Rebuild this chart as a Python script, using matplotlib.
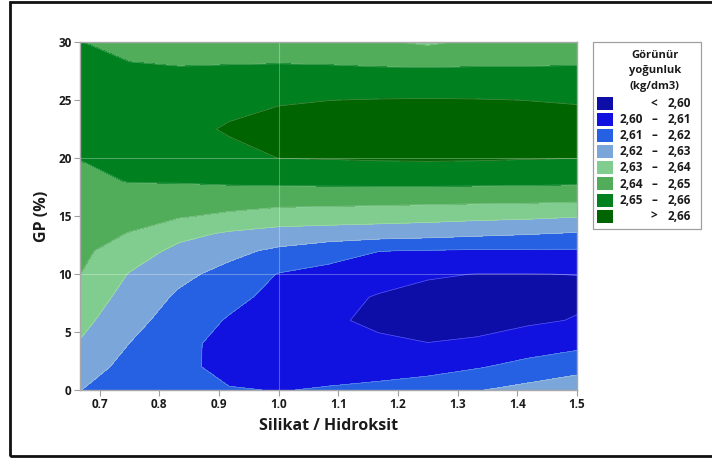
#!/usr/bin/env python3
"""Contour plot: apparent density vs Silikat/Hidroksit ratio and GP (%)."""

import numpy as np
import matplotlib
matplotlib.use("Agg")
import matplotlib.pyplot as plt
from matplotlib.patches import Rectangle

plt.rcParams["font.family"] = ["Open Sans", "DejaVu Sans"]

# grid
SILIKAT = [0.667, 0.75, 0.833, 0.917, 1.0, 1.083, 1.167, 1.25, 1.333, 1.417, 1.5]
GP = [0, 2, 4, 6, 8, 10, 12, 13.5, 15, 16.5, 18, 20, 22.5, 25, 27.5, 30]
DENSITY = [
    [2.6202, 2.6140, 2.6125, 2.6104, 2.6098, 2.6104, 2.6125, 2.6160, 2.6195, 2.6230, 2.6268],
    [2.6248, 2.6169, 2.6117, 2.6079, 2.6066, 2.6080, 2.6058, 2.6060, 2.6092, 2.6130, 2.6163],
    [2.6293, 2.6199, 2.6129, 2.6066, 2.6033, 2.6042, 2.6016, 2.6001, 2.6008, 2.6048, 2.6074],
    [2.6330, 2.6231, 2.6157, 2.6091, 2.6044, 2.6014, 2.5982, 2.5979, 2.5981, 2.5985, 2.6005],
    [2.6365, 2.6263, 2.6185, 2.6128, 2.6070, 2.6035, 2.5992, 2.5983, 2.5975, 2.5972, 2.5985],
    [2.6401, 2.6295, 2.6223, 2.6170, 2.6096, 2.6071, 2.6044, 2.6006, 2.5999, 2.5999, 2.6001],
    [2.6420, 2.6352, 2.6274, 2.6226, 2.6181, 2.6140, 2.6102, 2.6096, 2.6090, 2.6090, 2.6091],
    [2.6435, 2.6397, 2.6329, 2.6289, 2.6265, 2.6256, 2.6247, 2.6236, 2.6221, 2.6208, 2.6193],
    [2.6450, 2.6433, 2.6410, 2.6381, 2.6356, 2.6350, 2.6344, 2.6338, 2.6328, 2.6321, 2.6308],
    [2.6465, 2.6469, 2.6462, 2.6455, 2.6444, 2.6441, 2.6438, 2.6433, 2.6431, 2.6429, 2.6423],
    [2.6480, 2.6503, 2.6505, 2.6513, 2.6520, 2.6523, 2.6526, 2.6528, 2.6526, 2.6523, 2.6520],
    [2.6502, 2.6530, 2.6532, 2.6566, 2.6601, 2.6605, 2.6610, 2.6612, 2.6610, 2.6605, 2.6601],
    [2.6545, 2.6564, 2.6565, 2.6612, 2.6635, 2.6645, 2.6650, 2.6652, 2.6650, 2.6643, 2.6632],
    [2.6590, 2.6565, 2.6536, 2.6565, 2.6591, 2.6599, 2.6603, 2.6605, 2.6603, 2.6599, 2.6594],
    [2.6546, 2.6514, 2.6507, 2.6511, 2.6515, 2.6515, 2.6515, 2.6515, 2.6515, 2.6514, 2.6513],
    [2.6502, 2.6470, 2.6465, 2.6460, 2.6455, 2.6445, 2.6410, 2.6385, 2.6415, 2.6425, 2.6445],
]

LEVELS = [2.50, 2.60, 2.61, 2.62, 2.63, 2.64, 2.65, 2.66, 2.80]
COLORS = ["#0d0da8", "#1111e0", "#2561e2", "#7ba6d9",
          "#80cd8f", "#52ad5b", "#00801f", "#006400"]
LEGEND_LO = ["", "2,60", "2,61", "2,62", "2,63", "2,64", "2,65", ""]
LEGEND_MID = ["<", "\u2013", "\u2013", "\u2013", "\u2013", "\u2013", "\u2013", ">"]
LEGEND_HI = ["2,60", "2,61", "2,62", "2,63", "2,64", "2,65", "2,66", "2,66"]

W, H = 712, 461
TXT = "#1a1a1a"


def main():
    fig = plt.figure(figsize=(W / 100, H / 100), dpi=100)
    ax = fig.add_axes([80 / W, 1 - 390 / H, 497 / W, 348 / H])

    z = np.array(DENSITY)
    ax.contourf(SILIKAT, GP, z, levels=LEVELS, colors=COLORS)
    ax.contour(SILIKAT, GP, z, levels=LEVELS[1:-1], colors="white",
               linewidths=0.5, alpha=0.3)

    for xv in [1.0]:
        ax.axvline(xv, color="white", lw=0.8, alpha=0.3)
    for yv in [10, 20]:
        ax.axhline(yv, color="white", lw=0.8, alpha=0.3)

    ax.set_xlim(SILIKAT[0], SILIKAT[-1])
    ax.set_ylim(GP[0], GP[-1])
    ax.set_xticks(np.round(np.arange(0.7, 1.51, 0.1), 1))
    ax.set_xticklabels([f"{t:.1f}" for t in np.arange(0.7, 1.51, 0.1)])
    ax.set_yticks(range(0, 31, 5))
    ax.tick_params(length=4, width=0.8, color="#a0a0a0", labelsize=8.5,
                   labelcolor=TXT, pad=2)
    for lab in ax.get_xticklabels() + ax.get_yticklabels():
        lab.set_fontweight("bold")
    for sp in ax.spines.values():
        sp.set_color("#a8a8a8")
        sp.set_linewidth(1.0)

    ax.set_xlabel("Silikat / Hidroksit", fontsize=11.5, fontweight="bold",
                  color=TXT, labelpad=5)
    ax.set_ylabel("GP (%)", fontsize=11.5, fontweight="bold", color=TXT,
                  labelpad=6)

    # legend box, drawn in pixel coordinates of the figure
    def fx(px):
        return px / W

    def fy(py):
        return 1 - py / H

    fig.patches.append(Rectangle((fx(593), fy(229)), fx(701) - fx(593),
                                 fy(42) - fy(229), transform=fig.transFigure,
                                 fill=False, edgecolor="#a0a0a0", lw=0.9))
    for i, line in enumerate(["Görünür", "yoğunluk", "(kg/dm3)"]):
        fig.text(fx(655), fy(56 + 15 * i), line, ha="center", va="center",
                 fontsize=8, fontweight="bold", color=TXT)
    for i, col in enumerate(COLORS):
        yc = 103.5 + 16.1 * i
        fig.patches.append(Rectangle((fx(597), fy(yc + 6.5)), fx(613) - fx(597),
                                     fy(yc - 6.5) - fy(yc + 6.5),
                                     transform=fig.transFigure,
                                     facecolor=col, edgecolor="none"))
        fig.text(fx(620), fy(yc), LEGEND_LO[i], ha="left", va="center",
                 fontsize=8.5, fontweight="bold", color=TXT)
        fig.text(fx(654), fy(yc), LEGEND_MID[i], ha="center", va="center",
                 fontsize=8.5, fontweight="bold", color=TXT)
        fig.text(fx(691), fy(yc), LEGEND_HI[i], ha="right", va="center",
                 fontsize=8.5, fontweight="bold", color=TXT)

    # outer frame
    fig.patches.append(Rectangle((fx(9.5), fy(456)), fx(720) - fx(9.5),
                                 fy(2) - fy(456), transform=fig.transFigure,
                                 fill=False, edgecolor="#111111", lw=2))

    fig.savefig("out.png", dpi=100)


if __name__ == "__main__":
    main()
